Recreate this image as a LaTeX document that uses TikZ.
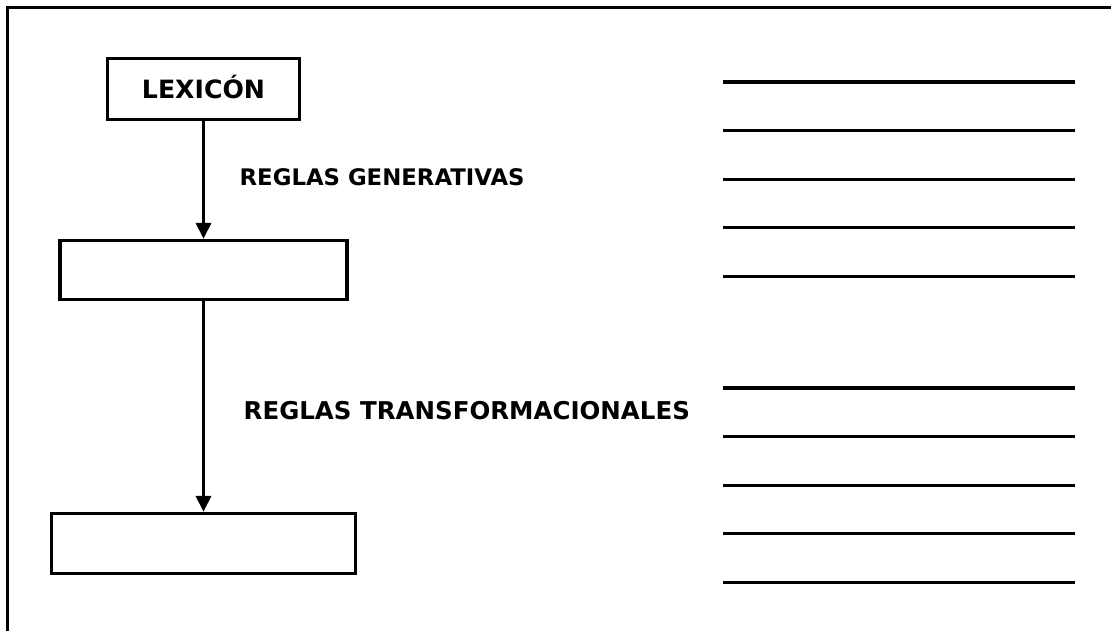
\documentclass[tikz,border=0pt]{standalone}
\usepackage{fontspec}
\setmainfont{DejaVu Sans}
\usetikzlibrary{positioning,arrows.meta}

\begin{document}
\begin{tikzpicture}[x=1pt, y=-1pt, node distance=181pt, on grid, line width=3.3pt,
    box/.style={draw, rectangle, inner sep=0pt},
    lbl/.style={inner sep=0pt, anchor=base west}]
  \useasboundingbox (0,0) rectangle (1111,630);
  \draw (7.5,640) -- (7.5,7.5) -- (1120,7.5);
  \node[box, minimum width=192pt, minimum height=61pt, text height=18pt,
    text depth=0pt, font=\fontsize{25.2}{25.2}\selectfont\bfseries] (lex) at (203.5,89) {LEXICÓN};
  \node[box, minimum width=287pt, minimum height=59pt] (prof) [below=of lex] {};
  \node[box, minimum width=304pt, minimum height=60pt] (sup) [below=273.5pt of prof] {};
  \path[-{Triangle[length=16pt,width=15pt]}] (lex) edge (prof)
    (prof) edge (sup);
  \node[lbl, font=\fontsize{22.8}{22.8}\selectfont\bfseries] (gen) at (238,185) {REGLAS GENERATIVAS};
  \node[lbl, font=\fontsize{24.5}{24.5}\selectfont\bfseries] (trans) at (242,419) {REGLAS TRANSFORMACIONALES};
  \foreach \y in {82,130.6,179.2,227.8,276.4,388,436.6,485.2,533.8,582.4}
    \draw (723,\y) -- (1075,\y);
\end{tikzpicture}
\end{document}
